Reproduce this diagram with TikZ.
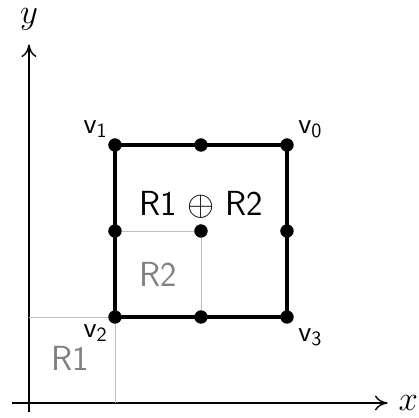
\documentclass[tikz,border=0pt]{standalone}
\usepackage{amsmath,amssymb}
\usepackage{tikz}
\usetikzlibrary{arrows.meta,positioning,calc}

\begin{document}
\begin{tikzpicture}[x=1.5cm,y=1.5cm,
  >={To[length=2.2mm,width=2.6mm]},
  vertex/.style={circle,fill=black,inner sep=0pt,minimum size=6.5pt},
  edge/.style={line width=2pt},
  grid/.style={gray!50,line width=0.4pt},
  region/.style={gray,font=\LARGE\sffamily},
  vlabel/.style={font=\Large,inner sep=1pt}]

\useasboundingbox (-0.337,-0.163) rectangle (4.535,4.686);

%% Axes
\coordinate (xs) at (-0.2,0);
\coordinate (xe) at (4.17,0);
\coordinate (ys) at (0,-0.1);
\coordinate (ye) at (0,4.17);
\draw[->,line width=0.7pt] (xs) -- (xe);
\draw[->,line width=0.7pt] (ys) -- (ye);
\node[inner sep=1pt] (xlab) at (4.41,0) {\LARGE $x$};
\node[inner sep=1pt] (ylab) at (0,4.46) {\LARGE $y$};

%% Corner points of the square
\node[vertex] (v0) at (3,3) {};
\node[vertex] (v1) at (1,3) {};
\node[vertex] (v2) at (1,1) {};
\node[vertex] (v3) at (3,1) {};

%% Midpoints and centre
\node[vertex] (m01) at (2,3) {};
\node[vertex] (m12) at (1,2) {};
\node[vertex] (m23) at (2,1) {};
\node[vertex] (m30) at (3,2) {};
\node[vertex] (c) at (2,2) {};

%% Thin grey boxes
\coordinate (py) at (0,1);
\coordinate (px) at (1,0);
\draw[grid] (py) -- (v2.center) -- (px);
\draw[grid] (m12.center) -- (c.center) -- (m23.center);

%% Square
\draw[edge,line join=miter] (v0.center) -- (v1.center) -- (v2.center) -- (v3.center) -- (v0.center);
\foreach \n in {v0,v1,v2,v3,m01,m12,m23,m30,c}
  \node[vertex] at (\n) {};

%% Vertex labels
\node[vlabel,above left=0pt and 0pt of v1] (l1) {$\mathsf{v}_{\mathsf{1}}$};
\node[vlabel,above right=0pt and 2pt of v0] (l0) {$\mathsf{v}_{\mathsf{0}}$};
\node[vlabel,below left=0pt and 0pt of v2] (l2) {$\mathsf{v}_{\mathsf{2}}$};
\node[vlabel,below right=2pt and 2pt of v3] (l3) {$\mathsf{v}_{\mathsf{3}}$};

%% Region labels
\node[region] (r1) at (0.477,0.523) {R1};
\node[region] (r2) at (1.5,1.5) {R2};
\node[font=\LARGE\sffamily] (sum) at (2,2.30) {R1 $\oplus$ R2};

\end{tikzpicture}
\end{document}
